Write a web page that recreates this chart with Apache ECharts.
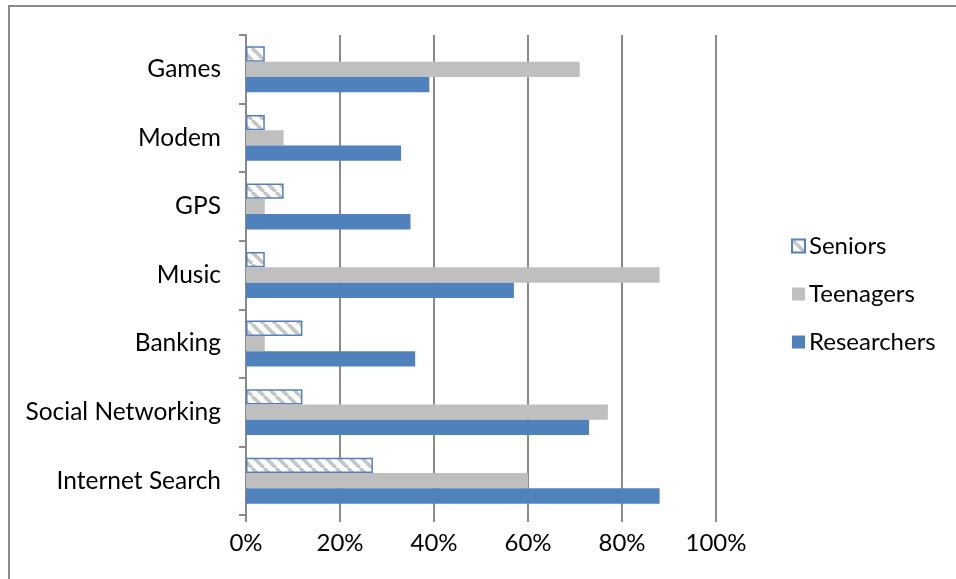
<!DOCTYPE html>
<html>
<head>
<meta charset="utf-8">
<script src="https://cdn.jsdelivr.net/npm/echarts@6/dist/echarts.min.js"></script>
<style>
  html, body { margin: 0; padding: 0; background: #fff; }
  #frame { position: absolute; left: 8px; top: 5px; width: 960px; height: 590px;
           border: 2px solid #8a8a8a; box-sizing: border-box; }
  #chart { position: absolute; left: 0; top: 0; width: 956px; height: 579px; }
</style>
</head>
<body>
<div id="frame"></div>
<div id="chart"></div>
<script>
// Usage share (%) per feature, bottom category first
const categories = ['Internet Search', 'Social Networking', 'Banking', 'Music', 'GPS', 'Modem', 'Games'];
const researchers = [88, 73, 36, 57, 35, 33, 39];
const teenagers   = [60, 77, 4, 88, 4, 8, 71];
const seniors     = [27, 12, 12, 4, 8, 4, 4];
const xTicks = [0, 20, 40, 60, 80, 100];

// Diagonal hatch fill for the seniors bars
function hatch() {
  const c = document.createElement('canvas');
  c.width = 12; c.height = 12;
  const g = c.getContext('2d');
  g.fillStyle = '#ffffff';
  g.fillRect(0, 0, 12, 12);
  g.strokeStyle = '#c4c4c4';
  g.lineWidth = 3.5;
  g.beginPath();
  for (let k = -12; k <= 24; k += 12) {
    g.moveTo(k, 0);
    g.lineTo(k + 12, 12);
  }
  g.stroke();
  return c;
}

const font = 'Lato';
const chart = echarts.init(document.getElementById('chart'));
chart.setOption({
  animation: false,
  textStyle: { fontFamily: font },
  grid: { left: 246, right: 240, top: 35, bottom: 64 },
  legend: {
    orient: 'vertical',
    left: 786, top: 229,
    itemGap: 24,
    itemWidth: 13, itemHeight: 13,
    icon: 'rect',
    data: ['Seniors', 'Teenagers', 'Researchers'],
    textStyle: { fontFamily: font, fontSize: 24, color: '#000', padding: [0, 0, 0, -1] }
  },
  xAxis: {
    type: 'value', min: xTicks[0], max: xTicks[xTicks.length - 1], interval: 20,
    axisLine: { show: false },
    axisTick: { show: true, length: 7, lineStyle: { color: '#8a8a8a', width: 2 } },
    splitLine: { show: true, lineStyle: { color: '#8a8a8a', width: 2 } },
    axisLabel: { formatter: '{value}%', fontSize: 24, color: '#000', margin: 16, fontFamily: font }
  },
  yAxis: {
    type: 'category', data: categories,
    axisLine: { show: true, lineStyle: { color: '#8a8a8a', width: 2 } },
    axisTick: { show: true, length: 7, lineStyle: { color: '#8a8a8a', width: 2 } },
    axisLabel: { fontSize: 24.5, color: '#000', margin: 25, fontFamily: font }
  },
  // series listed top-to-bottom within each category band
  series: [
    { name: 'Seniors', type: 'bar', data: seniors, barGap: '0%', barCategoryGap: '33%',
      itemStyle: { color: { image: hatch(), repeat: 'repeat' }, borderColor: '#4f81bd', borderWidth: 1.5 } },
    { name: 'Teenagers', type: 'bar', data: teenagers, barGap: '0%', barCategoryGap: '33%',
      itemStyle: { color: '#bfbfbf' } },
    { name: 'Researchers', type: 'bar', data: researchers, barGap: '0%', barCategoryGap: '33%',
      itemStyle: { color: '#4f81bd' } }
  ]
});
</script>
</body>
</html>
